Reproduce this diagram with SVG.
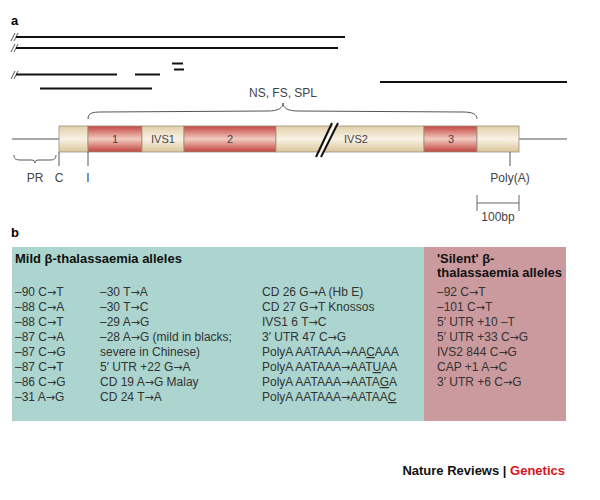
<svg xmlns="http://www.w3.org/2000/svg" width="600" height="500" viewBox="0 0 600 500">
<defs>
<linearGradient id="beige" x1="0" y1="0" x2="0" y2="1">
<stop offset="0" stop-color="#e2cfa8"/><stop offset="0.5" stop-color="#f8f2e6"/><stop offset="1" stop-color="#dcc59a"/>
</linearGradient>
<linearGradient id="red" x1="0" y1="0" x2="0" y2="1">
<stop offset="0" stop-color="#c4463f"/><stop offset="0.5" stop-color="#f2cbc2"/><stop offset="1" stop-color="#c0423c"/>
</linearGradient>
<style>
text{font-family:"Liberation Sans",Arial,sans-serif;}
.lbl{font-size:12px;fill:#444;}
.glbl{font-size:11px;fill:#444;}
.hd{font-size:13px;font-weight:bold;fill:#000;}
.row{font-size:12px;fill:#333;}
.bold{font-size:13px;font-weight:bold;fill:#111;}
.ar{font-family:"DejaVu Sans",sans-serif;font-size:11px;}
.thick{stroke:#111;stroke-width:2;fill:none;}
.thin{stroke:#555;stroke-width:1;fill:none;}
.seg{stroke:#9a9080;stroke-width:0.8;}
.u{text-decoration:underline;}
</style>
</defs>
<rect width="600" height="500" fill="#fff"/>

<g id="panel-a">
<text class="hd" x="11" y="25">a</text>
<g id="deletions">
<path class="thin" d="M11,41 L15,33 M14,41 L18,33 M11,52 L15,44 M14,52 L18,44 M11,79 L15,71 M14,79 L18,71" stroke="#222"/>
<line class="thick" x1="16" y1="37" x2="345" y2="37"/>
<line class="thick" x1="16" y1="48" x2="338" y2="48"/>
<line class="thick" x1="16" y1="74.5" x2="117" y2="74.5"/>
<line class="thick" x1="135" y1="74.5" x2="160" y2="74.5"/>
<line class="thick" x1="40" y1="88.5" x2="152" y2="88.5"/>
<line class="thick" x1="172" y1="63.5" x2="183" y2="63.5" stroke-width="2.5"/>
<line class="thick" x1="174" y1="69.5" x2="184" y2="69.5" stroke-width="2.5"/>
<line class="thick" x1="380" y1="82" x2="567" y2="82"/>
</g>

<g id="ns-fs-spl">
<text class="lbl" x="283" y="97" text-anchor="middle">NS, FS, SPL</text>
<path class="thin" stroke="#444" d="M88,119 C88,113 92,112 102,112 L268,111 C278,111 283,108 283,103 C283,108 288,111 298,111 L463,112 C472,112 477,114 477,119"/>
</g>

<g id="gene">
<line class="thin" x1="12" y1="139" x2="59" y2="139"/>
<line class="thin" x1="519" y1="139" x2="567" y2="139"/>
<rect id="utr5" class="seg" x="59" y="126" width="29" height="26" fill="url(#beige)"/>
<rect id="exon1" class="seg" x="88" y="126" width="54" height="26" fill="url(#red)"/>
<rect id="ivs1" class="seg" x="142" y="126" width="42" height="26" fill="url(#beige)"/>
<rect id="exon2" class="seg" x="184" y="126" width="92" height="26" fill="url(#red)"/>
<rect id="ivs2" class="seg" x="276" y="126" width="148" height="26" fill="url(#beige)"/>
<rect id="exon3" class="seg" x="424" y="126" width="53" height="26" fill="url(#red)"/>
<rect id="utr3" class="seg" x="477" y="126" width="42" height="26" fill="url(#beige)"/>
<polygon points="318,157 334,123 336,123 320,157" fill="#fff"/>
<line x1="316" y1="157" x2="332" y2="123" stroke="#111" stroke-width="2"/>
<line x1="321" y1="157" x2="338" y2="123" stroke="#111" stroke-width="2"/>
<text class="glbl" x="115" y="143" text-anchor="middle">1</text>
<text class="glbl" x="163" y="143" text-anchor="middle">IVS1</text>
<text class="glbl" x="230" y="143" text-anchor="middle">2</text>
<text class="glbl" x="356" y="143" text-anchor="middle">IVS2</text>
<text class="glbl" x="451" y="143" text-anchor="middle">3</text>
</g>

<g id="gene-marks">
<path class="thin" stroke="#444" d="M14,155 C14,159 16,160 21,160 L31,160 C34,160 35,161 35,163 C35,161 36,160 39,160 L50,160 C54,160 56,159 56,155"/>
<line class="thin" x1="59" y1="152" x2="59" y2="166"/>
<line class="thin" x1="88" y1="152" x2="88" y2="166"/>
<line class="thin" x1="510" y1="152" x2="510" y2="166"/>
<text class="lbl" x="35" y="182" text-anchor="middle">PR</text>
<text class="lbl" x="59" y="182" text-anchor="middle">C</text>
<text class="lbl" x="88" y="182" text-anchor="middle">I</text>
<text class="lbl" x="510" y="182" text-anchor="middle">Poly(A)</text>
</g>

<g id="scale">
<path d="M477,195 V211 M477,203 H519 M519,195 V211" stroke="#666" stroke-width="1" fill="none"/>
<text class="lbl" x="498" y="221" text-anchor="middle">100bp</text>
</g>
</g>

<g id="panel-b">
<text class="hd" x="11" y="237">b</text>
<g id="mild">
<rect x="12" y="247" width="412" height="174" fill="#abd5ce"/>
<text class="bold" x="15" y="263">Mild β-thalassaemia alleles</text>
<g class="col1">
<text class="row" x="15" y="296">–90 C<tspan class="ar">→</tspan>T</text>
<text class="row" x="15" y="311">–88 C<tspan class="ar">→</tspan>A</text>
<text class="row" x="15" y="326">–88 C<tspan class="ar">→</tspan>T</text>
<text class="row" x="15" y="341">–87 C<tspan class="ar">→</tspan>A</text>
<text class="row" x="15" y="356">–87 C<tspan class="ar">→</tspan>G</text>
<text class="row" x="15" y="371">–87 C<tspan class="ar">→</tspan>T</text>
<text class="row" x="15" y="386">–86 C<tspan class="ar">→</tspan>G</text>
<text class="row" x="15" y="401">–31 A<tspan class="ar">→</tspan>G</text>
</g>
<g class="col2">
<text class="row" x="100" y="296">–30 T<tspan class="ar">→</tspan>A</text>
<text class="row" x="100" y="311">–30 T<tspan class="ar">→</tspan>C</text>
<text class="row" x="100" y="326">–29 A<tspan class="ar">→</tspan>G</text>
<text class="row" x="100" y="341">–28 A<tspan class="ar">→</tspan>G (mild in blacks;</text>
<text class="row" x="100" y="356">severe in Chinese)</text>
<text class="row" x="100" y="371">5′ UTR +22 G<tspan class="ar">→</tspan>A</text>
<text class="row" x="100" y="386">CD 19 A<tspan class="ar">→</tspan>G Malay</text>
<text class="row" x="100" y="401">CD 24 T<tspan class="ar">→</tspan>A</text>
</g>
<g class="col3">
<text class="row" x="262" y="296">CD 26 G<tspan class="ar">→</tspan>A (Hb E)</text>
<text class="row" x="262" y="311">CD 27 G<tspan class="ar">→</tspan>T Knossos</text>
<text class="row" x="262" y="326">IVS1 6 T<tspan class="ar">→</tspan>C</text>
<text class="row" x="262" y="341">3′ UTR 47 C<tspan class="ar">→</tspan>G</text>
<text class="row" x="262" y="356">PolyA AATAAA<tspan class="ar">→</tspan>AA<tspan class="u">C</tspan>AAA</text>
<text class="row" x="262" y="371">PolyA AATAAA<tspan class="ar">→</tspan>AAT<tspan class="u">U</tspan>AA</text>
<text class="row" x="262" y="386">PolyA AATAAA<tspan class="ar">→</tspan>AATA<tspan class="u">G</tspan>A</text>
<text class="row" x="262" y="401">PolyA AATAAA<tspan class="ar">→</tspan>AATAA<tspan class="u">C</tspan></text>
</g>
</g>
<g id="silent">
<rect x="424" y="247" width="142" height="174" fill="#cb9a9e"/>
<text class="bold" x="437" y="263">'Silent' β-</text>
<text class="bold" x="437" y="277">thalassaemia alleles</text>
<text class="row" x="437" y="296">–92 C<tspan class="ar">→</tspan>T</text>
<text class="row" x="437" y="311">–101 C<tspan class="ar">→</tspan>T</text>
<text class="row" x="437" y="326">5′ UTR +10 –T</text>
<text class="row" x="437" y="341">5′ UTR +33 C<tspan class="ar">→</tspan>G</text>
<text class="row" x="437" y="356">IVS2 844 C<tspan class="ar">→</tspan>G</text>
<text class="row" x="437" y="371">CAP +1 A<tspan class="ar">→</tspan>C</text>
<text class="row" x="437" y="386">3′ UTR +6 C<tspan class="ar">→</tspan>G</text>
</g>
</g>

<text x="565" y="475" text-anchor="end" font-size="13" font-weight="bold" fill="#111">Nature Reviews | <tspan fill="#d7141a">Genetics</tspan></text>
</svg>
